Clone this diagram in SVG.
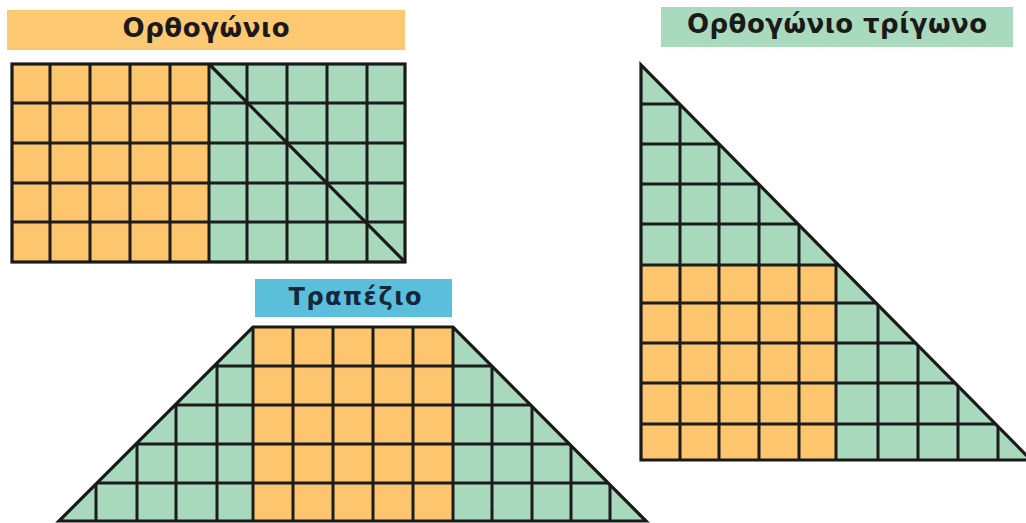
<svg xmlns="http://www.w3.org/2000/svg" width="1026" height="523" viewBox="0 0 1026 523">
<style>
.or{fill:#FDC56E}
.gr{fill:#A9D9BC}
.grid{stroke:#1c1c1c;stroke-width:3;fill:none}
.edge{stroke:#1a1a1a;stroke-width:3.2;fill:none;stroke-linejoin:miter}
.lbl{font-family:"DejaVu Sans","Liberation Sans",sans-serif;font-weight:bold;text-anchor:middle}
</style>
<defs>
<clipPath id="triClip"><polygon points="641,65 641,460 1031,460"/></clipPath>
<clipPath id="trapClip"><polygon points="253,327 453,327 646,521 59,521"/></clipPath>
</defs>
<rect width="1026" height="523" fill="#ffffff"/>

<g id="label-rectangle">
<rect x="7" y="10" width="398" height="40" fill="#FDC872"/>
<text class="lbl" x="206" y="37" font-size="26" fill="#1a1a1a" textLength="167" lengthAdjust="spacing">Ορθογώνιο</text>
</g>

<g id="rectangle">
<rect class="or" x="12" y="64" width="197" height="198"/>
<rect class="gr" x="209" y="64" width="196" height="198"/>
<path class="grid" d="M50 64V262M90 64V262M130 64V262M170 64V262M209 64V262M247 64V262M287 64V262M327 64V262M367 64V262M12 103H405M12 143H405M12 183H405M12 222H405"/>
<rect class="edge" x="12" y="64" width="393" height="198"/>
<line class="edge" x1="209" y1="64" x2="405" y2="262"/>
</g>

<g id="label-right-triangle">
<rect x="661" y="7" width="352" height="40" fill="#AADABD"/>
<text class="lbl" x="837" y="33" font-size="26" fill="#1a1a1a" textLength="300" lengthAdjust="spacing">Ορθογώνιο τρίγωνο</text>
</g>

<g id="right-triangle">
<polygon class="gr" points="641,65 641,460 1031,460"/>
<g clip-path="url(#triClip)">
<rect class="or" x="641" y="265" width="195" height="195"/>
<path class="grid" d="M680 65V460M719 65V460M759 65V460M799 65V460M836 65V460M878 65V460M918 65V460M958 65V460M998 65V460M641 104H1031M641 144H1031M641 184H1031M641 224H1031M641 265H1031M641 303H1031M641 343H1031M641 383H1031M641 424H1031"/>
</g>
<polygon class="edge" points="641,65 641,460 1031,460"/>
</g>

<g id="label-trapezoid">
<rect x="255" y="279" width="197" height="38" fill="#5BBFDB"/>
<text class="lbl" x="355" y="305" font-size="24" fill="#14283a" textLength="133" lengthAdjust="spacing">Τραπέζιο</text>
</g>

<g id="trapezoid">
<polygon class="gr" points="253,327 453,327 646,521 59,521"/>
<g clip-path="url(#trapClip)">
<rect class="or" x="253" y="327" width="200" height="194"/>
<path class="grid" d="M96 327V521M137 327V521M176 327V521M217 327V521M253 327V521M293 327V521M333 327V521M373 327V521M413 327V521M453 327V521M492 327V521M532 327V521M571 327V521M610 327V521M59 366H646M59 405H646M59 444H646M59 483H646"/>
</g>
<polygon class="edge" points="253,327 453,327 646,521 59,521"/>
</g>
</svg>
